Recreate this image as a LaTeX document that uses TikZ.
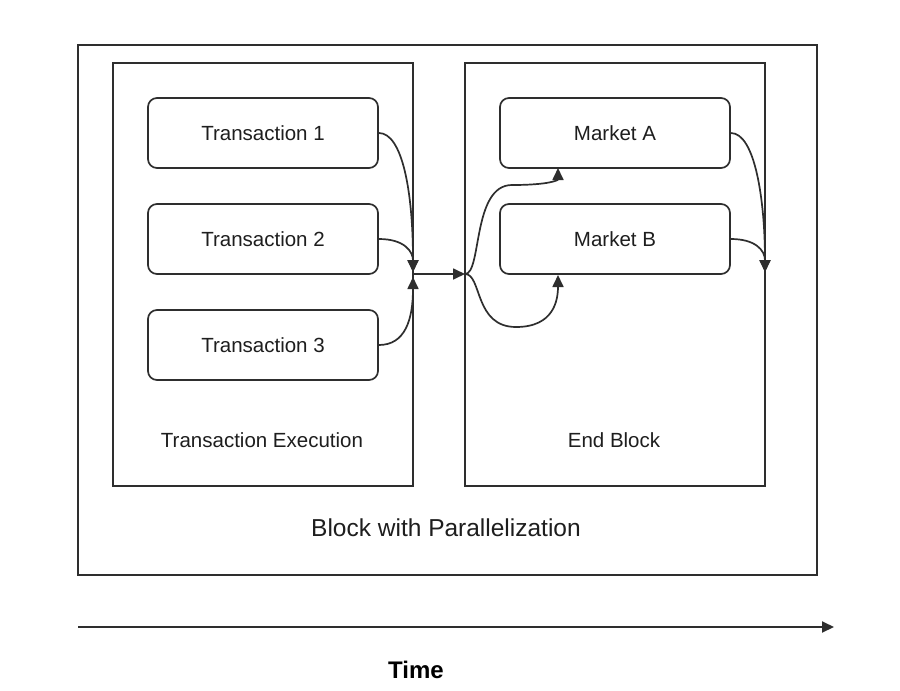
\documentclass[tikz,border=0pt]{standalone}
\usepackage{fontspec}
\setmainfont{Liberation Sans}
\usetikzlibrary{arrows.meta}
\definecolor{ln}{HTML}{2E2E2E}
\definecolor{tx}{HTML}{1E1E1E}
\tikzset{
  panel/.style={draw=ln, line width=1.8pt},
  txbox/.style={draw=ln, line width=1.7pt, rounded corners=9pt, minimum width=230pt, minimum height=70pt, font=\fontsize{20.5}{24}\selectfont, text=tx, inner sep=0pt},
  conn/.style={draw=ln, line width=1.7pt, -{Triangle[length=12pt,width=11pt]}},
  lbl/.style={font=\fontsize{20.5}{24}\selectfont, text=tx, inner sep=0pt}
}
\begin{document}
\begin{tikzpicture}[x=1pt,y=-1pt]
\useasboundingbox (0,0) rectangle (900,691);
\fill[white] (0,0) rectangle (900,691);
% outer and panels
\draw[panel] (78,45) rectangle (817,575);
\draw[panel] (113,63) rectangle (413,486);
\draw[panel] (465,63) rectangle (765,486);
% boxes
\node[txbox] (t1) at (263,133) {Transaction 1};
\node[txbox] (t2) at (263,239) {Transaction 2};
\node[txbox] (t3) at (263,345) {Transaction 3};
\node[txbox] (ma) at (615,133) {Market A};
\node[txbox] (mb) at (615,239) {Market B};
% labels
\node[lbl] (lte) at (262,440) {Transaction Execution};
\node[lbl] (leb) at (614,440) {End Block};
\node[lbl, font=\fontsize{24.5}{28}\selectfont] (lbp) at (446,528) {Block with Parallelization};
% junction coordinates
\coordinate (jd) at (413,272);
\coordinate (ju) at (413,277);
\coordinate (jl) at (413,274);
\coordinate (jr) at (465,274);
\coordinate (ja) at (558,168);
\coordinate (jb) at (558,275);
\coordinate (je) at (765,272);
% connectors left
\draw[conn] (t1.east) .. controls (402,133) and (413,190) .. (jd);
\draw[conn] (t2.east) .. controls (405,239) and (413,252) .. (jd);
\draw[conn] (t3.east) .. controls (405,345) and (413,320) .. (ju);
\draw[conn] (jl) -- (jr);
% connectors right
\draw[conn] (jr) .. controls (482,274) and (472,185) .. (512,185) .. controls (550,185) and (558,180) .. (ja);
\draw[conn] (jr) .. controls (482,274) and (474,327) .. (516,327) .. controls (554,327) and (558,300) .. (jb);
\draw[conn] (ma.east) .. controls (755,133) and (765,200) .. (je);
\draw[conn] (mb.east) .. controls (755,239) and (765,250) .. (je);
% time axis
\coordinate (ts) at (78,627);
\coordinate (te) at (834,627);
\draw[conn, line width=2pt] (ts) -- (te);
\node[lbl, font=\fontsize{24}{28}\selectfont\bfseries, text=black] (time) at (416,670) {Time};
\end{tikzpicture}
\end{document}
